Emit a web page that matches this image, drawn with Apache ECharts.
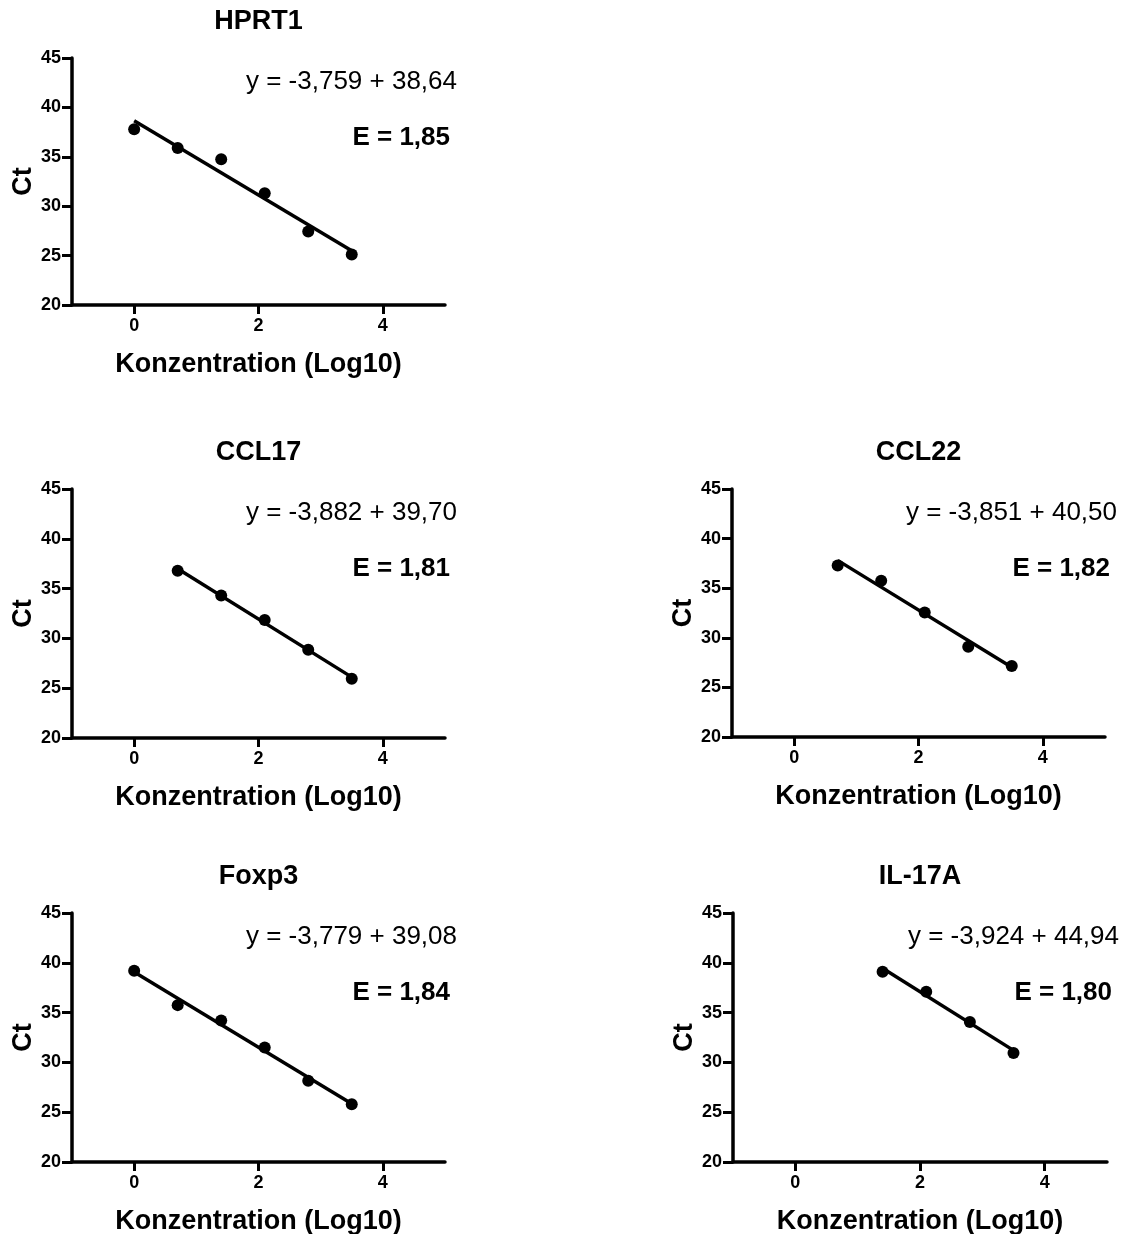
<!DOCTYPE html>
<html>
<head>
<meta charset="utf-8">
<title>Standardkurven</title>
<script src="https://cdn.jsdelivr.net/npm/echarts@6/dist/echarts.min.js"></script>
<style>
  html, body { margin: 0; padding: 0; background: #fff; }
  #chart { width: 1131px; height: 1234px; }
</style>
</head>
<body>
<div id="chart"></div>
<script>
// Panels in drawing order
const genes = ['HPRT1', 'CCL17', 'CCL22', 'Foxp3', 'IL-17A']

// Konzentration (Log10) / Ct per gene
const xHPRT1 = [0, 0.7, 1.4, 2.1, 2.8, 3.5]
const yHPRT1 = [37.8, 35.9, 34.75, 31.3, 27.45, 25.1]
const xCCL17 = [0.7, 1.4, 2.1, 2.8, 3.5]
const yCCL17 = [36.8, 34.3, 31.85, 28.85, 25.95]
const xCCL22 = [0.7, 1.4, 2.1, 2.8, 3.5]
const yCCL22 = [37.3, 35.75, 32.55, 29.1, 27.15]
const xFoxp3 = [0, 0.7, 1.4, 2.1, 2.8, 3.5]
const yFoxp3 = [39.2, 35.75, 34.2, 31.5, 28.15, 25.8]
const xIL17A = [1.4, 2.1, 2.8, 3.5]
const yIL17A = [39.1, 37.1, 34.05, 30.95]

// Regression shown in each panel
const slopes = [-3.759, -3.882, -3.851, -3.779, -3.924]
const intercepts = [38.64, 39.70, 40.50, 39.08, 44.94]
const efficiencies = [1.85, 1.81, 1.82, 1.84, 1.80]

const xTicks = [0, 2, 4]

const xData = [xHPRT1, xCCL17, xCCL22, xFoxp3, xIL17A]
const yData = [yHPRT1, yCCL17, yCCL22, yFoxp3, yIL17A]

// grid boxes: left, top, width, height
const boxes = [
  [72, 58, 373, 247],
  [72, 489, 373, 249],
  [732, 489, 373, 248],
  [72, 913, 373, 249],
  [733, 913, 374, 249]
]

const FONT = '"Liberation Sans", Arial, Helvetica, sans-serif'
const fmt = (v, d) => v.toFixed(d).replace('.', ',')

const grids = []
const xAxes = []
const yAxes = []
const series = []
const graphics = []

genes.forEach((gene, i) => {
  const [left, top, width, height] = boxes[i]
  grids.push({ left, top, width, height, outerBoundsMode: 'none' })

  xAxes.push({
    gridIndex: i,
    type: 'value',
    min: -1,
    max: 5,
    name: 'Konzentration (Log10)',
    nameLocation: 'middle',
    nameGap: 46,
    nameTextStyle: { color: '#000', fontFamily: FONT, fontWeight: 'bold', fontSize: 27 },
    axisLine: { show: true, onZero: false, lineStyle: { color: '#000', width: 3.5 } },
    axisTick: { show: true, length: 9, customValues: xTicks, lineStyle: { color: '#000', width: 3 } },
    axisLabel: { customValues: xTicks, color: '#000', fontFamily: FONT, fontWeight: 'bold', fontSize: 18, margin: 12 },
    splitLine: { show: false }
  })

  yAxes.push({
    gridIndex: i,
    type: 'value',
    min: 20,
    max: 45,
    interval: 5,
    name: 'Ct',
    nameLocation: 'middle',
    nameGap: 34,
    nameTextStyle: { color: '#000', fontFamily: FONT, fontWeight: 'bold', fontSize: 27 },
    axisLine: { show: true, onZero: false, lineStyle: { color: '#000', width: 3.5 } },
    axisTick: { show: true, length: 10, lineStyle: { color: '#000', width: 3 } },
    axisLabel: { color: '#000', fontFamily: FONT, fontWeight: 'bold', fontSize: 18, margin: 11 },
    splitLine: { show: false }
  })

  const xs = xData[i]
  const pts = xs.map((x, k) => [x, yData[i][k]])
  series.push({
    type: 'scatter',
    xAxisIndex: i,
    yAxisIndex: i,
    data: pts,
    symbol: 'circle',
    symbolSize: 12,
    itemStyle: { color: '#000', opacity: 1 },
    z: 3
  })

  // fit line across the measured range
  const x0 = Math.min(...xs)
  const x1 = Math.max(...xs)
  series.push({
    type: 'line',
    xAxisIndex: i,
    yAxisIndex: i,
    data: [[x0, intercepts[i] + slopes[i] * x0], [x1, intercepts[i] + slopes[i] * x1]],
    showSymbol: false,
    symbol: 'none',
    lineStyle: { color: '#000', width: 3.5 },
    z: 2
  })

  const cx = left + width / 2
  const right = left + width
  graphics.push({
    type: 'text',
    x: cx,
    y: top - 36,
    style: { text: gene, font: 'bold 27px ' + FONT, fill: '#000', textAlign: 'center', align: 'center', textVerticalAlign: 'middle', verticalAlign: 'middle' }
  })
  graphics.push({
    type: 'text',
    x: right + 12,
    y: top + 24,
    style: { text: 'y = ' + fmt(slopes[i], 3) + ' + ' + fmt(intercepts[i], 2), font: '26px ' + FONT, fill: '#000', textAlign: 'right', align: 'right', textVerticalAlign: 'middle', verticalAlign: 'middle' }
  })
  graphics.push({
    type: 'text',
    x: right + 5,
    y: top + 80,
    style: { text: 'E = ' + fmt(efficiencies[i], 2), font: 'bold 26px ' + FONT, fill: '#000', textAlign: 'right', align: 'right', textVerticalAlign: 'middle', verticalAlign: 'middle' }
  })
})

const chart = echarts.init(document.getElementById('chart'), null, { renderer: 'canvas' })
chart.setOption({
  animation: false,
  backgroundColor: '#fff',
  grid: grids,
  xAxis: xAxes,
  yAxis: yAxes,
  series: series,
  graphic: graphics
})
</script>
</body>
</html>
